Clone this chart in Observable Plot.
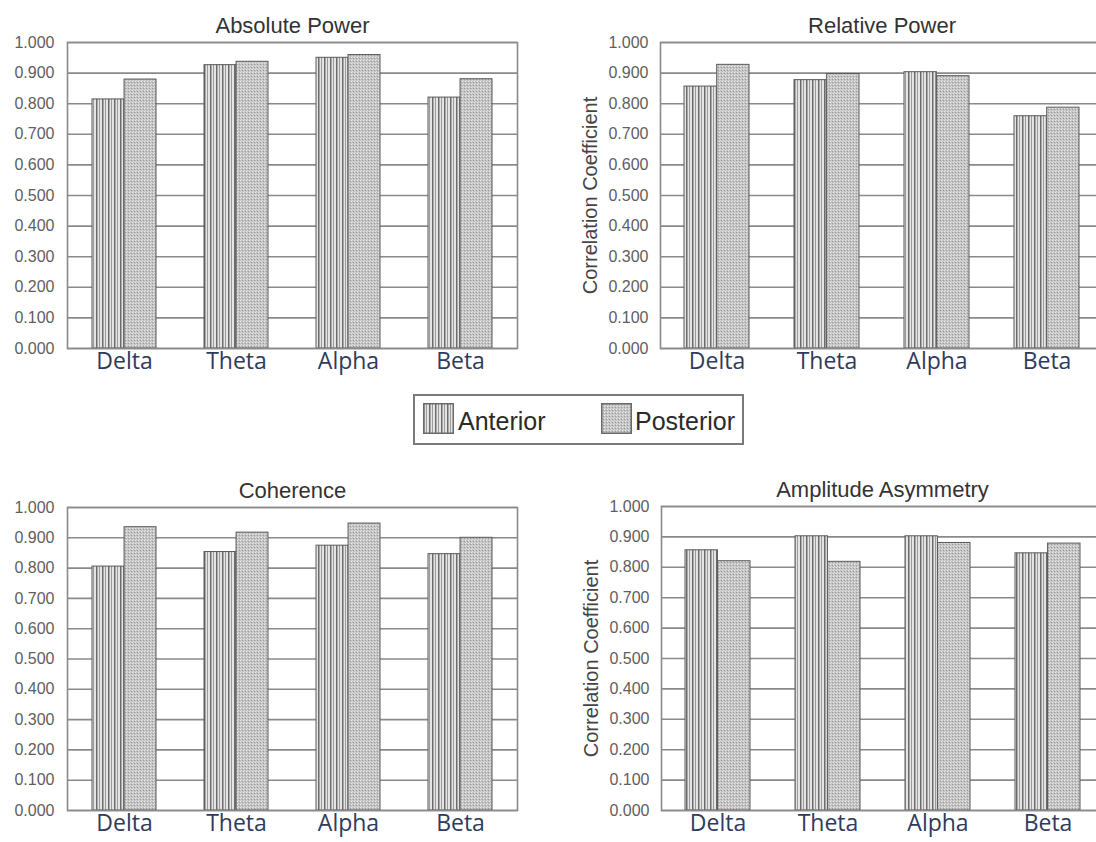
<!DOCTYPE html>
<html>
<head>
<meta charset="utf-8">
<script src="https://cdn.jsdelivr.net/npm/d3@7"></script>
<script src="https://cdn.jsdelivr.net/npm/@observablehq/plot@0.6"></script>
<style>
  html, body { margin: 0; padding: 0; background: #fff; }
  #root { position: relative; width: 1096px; height: 842px; overflow: hidden; background: #fff; }
  .panel { position: absolute; }
  .panel svg { max-width: none !important; }
  #legend { position: absolute; left: 413px; top: 394px; width: 327px; height: 47px; border: 2px solid #7a7a7a; background: #fff; }
  .sw { position: absolute; top: 7px; width: 31px; height: 31px; }
  .lt { position: absolute; top: 10px; font-family: "Liberation Sans", Arial, sans-serif; font-size: 25px; line-height: 30px; color: #2a2a2a; }
</style>
</head>
<body>
<svg width="0" height="0" style="position:absolute">
  <defs>
    <pattern id="antPat" patternUnits="userSpaceOnUse" width="6" height="6">
      <rect width="6" height="6" fill="#e4e4e4"></rect>
      <rect x="0" y="0" width="1.5" height="6" fill="#6c6c6c"></rect>
      <rect x="3" y="0" width="1" height="6" fill="#9c9c9c"></rect>
    </pattern>
    <pattern id="postPat" patternUnits="userSpaceOnUse" width="3" height="3">
      <rect width="3" height="3" fill="#c3c3c3"></rect>
      <rect x="0" y="0" width="1" height="1" fill="#e9e9e9"></rect>
      <rect x="2" y="1" width="1" height="1" fill="#9a9a9a"></rect>
      <rect x="1" y="2" width="1" height="1" fill="#d8d8d8"></rect>
    </pattern>
  </defs>
</svg>
<div id="root">
  <div id="legend">
    <svg class="sw" style="left:8px" width="31" height="31"><rect x="0.75" y="0.75" width="29.5" height="29.5" fill="url(#antPat)" stroke="#6a6a6a" stroke-width="1.5"></rect></svg>
    <span class="lt" style="left:43px">Anterior</span>
    <svg class="sw" style="left:186px" width="31" height="31"><rect x="0.75" y="0.75" width="29.5" height="29.5" fill="url(#postPat)" stroke="#6a6a6a" stroke-width="1.5"></rect></svg>
    <span class="lt" style="left:220px">Posterior</span>
  </div>
</div>
<script>
const bands = ["Delta", "Theta", "Alpha", "Beta"];
const yTicks = [0, 0.1, 0.2, 0.3, 0.4, 0.5, 0.6, 0.7, 0.8, 0.9, 1.0];

const absAnterior  = [0.814, 0.926, 0.950, 0.820];
const absPosterior = [0.879, 0.937, 0.959, 0.880];
const relAnterior  = [0.856, 0.877, 0.903, 0.759];
const relPosterior = [0.927, 0.897, 0.890, 0.787];
const cohAnterior  = [0.805, 0.853, 0.874, 0.846];
const cohPosterior = [0.935, 0.917, 0.947, 0.900];
const asyAnterior  = [0.856, 0.902, 0.902, 0.846];
const asyPosterior = [0.820, 0.818, 0.880, 0.878];

const yLabelText = "Correlation Coefficient";

function rows(vals, series) {
  return bands.map((b, i) => ({band: b, value: vals[i], series}));
}

function panel(p) {
  const step = (p.width - p.ml - p.mr) / bands.length;
  const bw = step * (1 - p.pad);
  const marks = [
    Plot.ruleY(yTicks, {stroke: "#8a8a8a", strokeWidth: 1.6}),
    Plot.barY(rows(p.ant, "Anterior"), {x: "band", y: "value", fill: "url(#antPat)", stroke: "#5a5a5a", strokeWidth: 1, insetRight: bw / 2}),
    Plot.barY(rows(p.post, "Posterior"), {x: "band", y: "value", fill: "url(#postPat)", stroke: "#5a5a5a", strokeWidth: 1, insetLeft: bw / 2}),
    Plot.frame({stroke: "#8a8a8a", strokeWidth: 1.6}),
    Plot.text([p.title], {text: d => d, frameAnchor: "top", dy: -10, lineAnchor: "bottom", fontSize: 22, fontFamily: "Liberation Sans, Arial, sans-serif", fill: "#333"})
  ];
  if (p.yLabel) {
    marks.push(Plot.text([p.yLabel], {text: d => d, frameAnchor: "left", textAnchor: "middle", lineAnchor: "middle", dx: -70, rotate: -90, fontSize: 20, fontFamily: "Liberation Sans, Arial, sans-serif", fill: "#444"}));
  }
  const svg = Plot.plot({
    width: p.width, height: p.height,
    marginLeft: p.ml, marginRight: p.mr, marginTop: p.mt, marginBottom: p.mb,
    style: {background: "transparent", overflow: "visible", maxWidth: "none"},
    x: {domain: bands, paddingInner: p.pad, paddingOuter: p.pad / 2, tickSize: 0, tickPadding: 4, label: null},
    y: {domain: [0, 1], ticks: yTicks, tickFormat: d3.format(".3f"), tickSize: 0, tickPadding: p.tp, label: null},
    marks
  });
  svg.style.maxWidth = "none";
  svg.style.width = p.width + "px";
  svg.style.height = p.height + "px";
  svg.querySelectorAll('g[aria-label^="x-axis"]').forEach(g => {
    g.setAttribute("font-size", "23");
    g.setAttribute("font-family", "Open Sans, sans-serif");
    g.style.color = "#2f3b5c";
    g.style.fill = "#2f3b5c";
  });
  svg.querySelectorAll('g[aria-label^="y-axis"]').forEach(g => {
    g.setAttribute("font-size", "16");
    g.setAttribute("font-family", "Liberation Sans, Arial, sans-serif");
    g.style.color = "#5e5e5e";
    g.style.fill = "#5e5e5e";
  });
  const div = document.createElement("div");
  div.className = "panel";
  div.style.left = p.left + "px";
  div.style.top = p.top + "px";
  div.style.width = p.width + "px";
  div.style.height = p.height + "px";
  div.appendChild(svg);
  document.getElementById("root").appendChild(div);
}

panel({title: "Absolute Power", ant: absAnterior, post: absPosterior, left: 0, top: 0,
  width: 530, height: 390, ml: 67, mr: 13, mt: 42, mb: 42, pad: 0.43, tp: 13});
panel({title: "Relative Power", ant: relAnterior, post: relPosterior, left: 560, top: 0, yLabel: yLabelText,
  width: 560, height: 390, ml: 100, mr: 17, mt: 42, mb: 42, pad: 0.41, tp: 12});
panel({title: "Coherence", ant: cohAnterior, post: cohPosterior, left: 0, top: 450,
  width: 530, height: 392, ml: 67, mr: 13, mt: 57, mb: 32, pad: 0.43, tp: 13});
panel({title: "Amplitude Asymmetry", ant: asyAnterior, post: asyPosterior, left: 560, top: 450, yLabel: yLabelText,
  width: 560, height: 392, ml: 101, mr: 17, mt: 56, mb: 32, pad: 0.41, tp: 12});
</script>
</body>
</html>
